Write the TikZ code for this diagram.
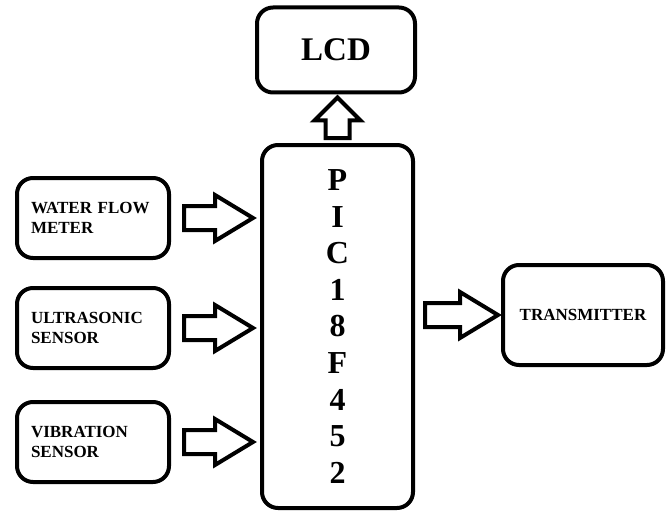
\documentclass[tikz,border=0pt]{standalone}
\usepackage{fontspec}
\setmainfont{Liberation Serif}
\usetikzlibrary{calc}

\tikzset{
  unit/.style={draw, line width=4pt, rounded corners=16pt, font=\bfseries},
  sensor/.style={unit, minimum width=152pt, minimum height=80pt, inner xsep=14pt,
    text width=124pt, align=left, font=\bfseries\fontsize{17}{20}\selectfont},
  blockarr/.style={draw, fill=white, line width=4pt}
}

% block arrow from #2 to #3, head length #1
\newcommand{\blockarrow}[3][38]{%
  \coordinate (fa s) at (#2);
  \coordinate (fa t) at (#3);
  \coordinate (fa h) at ($(fa t)!#1pt!(fa s)$);
  \draw[blockarr] ($(fa s)!12pt!90:(fa t)$) -- ($(fa h)!12pt!90:(fa t)$)
    -- ($(fa h)!23pt!90:(fa t)$) -- (fa t) -- ($(fa h)!23pt!-90:(fa t)$)
    -- ($(fa h)!12pt!-90:(fa t)$) -- ($(fa s)!12pt!-90:(fa t)$) -- cycle;}

\begin{document}
\begin{tikzpicture}[x=1pt, y=-1pt]
  \useasboundingbox (0,0) rectangle (670,511);

  %PIC
  \node[unit, minimum width=151pt, minimum height=363pt, align=center,
    font=\bfseries\fontsize{32}{36.6}\selectfont] (pic) at (337.5, 326.5)
    {P\\I\\C\\1\\8\\F\\4\\5\\2};

  %LCD
  \node[unit, minimum width=158pt, minimum height=85pt,
    font=\bfseries\fontsize{33}{36}\selectfont] (lcd) at (336, 50) {LCD};

  %sensors
  \node[sensor] (water) at (93, 218) {WATER FLOW\\METER};
  \node[sensor] (ultra) at (93, 328) {ULTRASONIC\\SENSOR};
  \node[sensor] (vib) at (93, 442) {VIBRATION\\SENSOR};

  %transmitter
  \node[unit, minimum width=160pt, minimum height=100pt,
    font=\bfseries\fontsize{17}{20}\selectfont] (tx) at (583, 315) {TRANSMITTER};

  %arrows
  \blockarrow{$(water.east)+(13,0)$}{$(pic.west |- water.east)+(-7,0)$}
  \blockarrow{$(ultra.east)+(13,0)$}{$(pic.west |- ultra.east)+(-7,0)$}
  \blockarrow{$(vib.east)+(13,0)$}{$(pic.west |- vib.east)+(-7,0)$}
  \blockarrow{$(pic.east |- tx.west)+(10,0)$}{$(tx.west)+(-3,0)$}
  \blockarrow[23]{$(pic.north)+(0,-5)$}{$(pic.north |- lcd.south)+(0,3)$}

\end{tikzpicture}
\end{document}
